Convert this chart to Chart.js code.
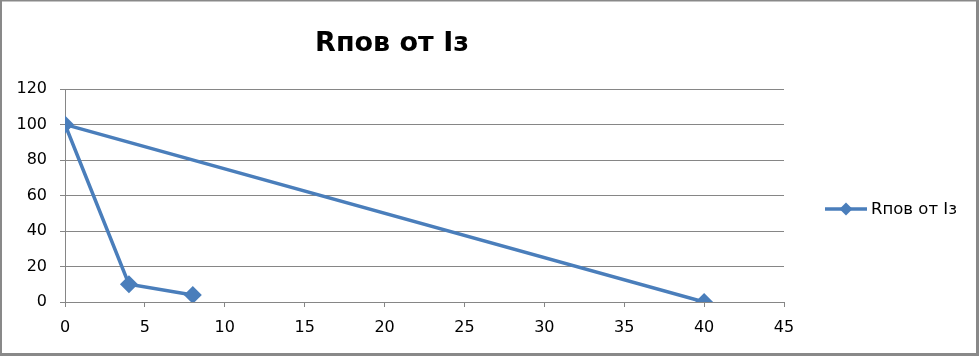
<!DOCTYPE html>
<html>
<head>
<meta charset="utf-8">
<script src="https://cdn.jsdelivr.net/npm/chart.js@4/dist/chart.umd.min.js"></script>
<style>
html,body{margin:0;padding:0;background:#fff;}
#wrap{width:979px;height:356px;position:relative;}
</style>
</head>
<body>
<div id="wrap"><canvas id="c" width="979" height="356"></canvas></div>
<script>
const titleText = "Rпов от Iз";
const seriesName = "Rпов от Iз";
const xValues = [8, 4, 0, 40];
const yValues = [4, 10, 100, 0];
const xTicks = [0, 5, 10, 15, 20, 25, 30, 35, 40, 45];
const yTicks = [0, 20, 40, 60, 80, 100, 120];

const lineColor = "#4A7EBB";
const axisColor = "#868686";
const fontFam = "'DejaVu Sans', 'Open Sans', sans-serif";

const points = xValues.map((x, i) => ({x: x, y: yValues[i]}));

const framePlugin = {
  id: 'frame',
  beforeDraw(chart) {
    const ctx = chart.ctx;
    ctx.save();
    ctx.fillStyle = '#fff';
    ctx.fillRect(0, 0, chart.width, chart.height);
    ctx.restore();
  },
  afterDraw(chart) {
    const ctx = chart.ctx;
    ctx.save();
    ctx.fillStyle = '#898989';
    ctx.fillRect(0, 0, 979, 1.5);
    ctx.fillRect(0, 0, 2, 356);
    ctx.fillRect(976, 0, 3, 356);
    ctx.fillRect(0, 353, 979, 3);
    // legend
    const ly = 209;
    ctx.strokeStyle = lineColor;
    ctx.lineWidth = 3.5;
    ctx.beginPath();
    ctx.moveTo(825, ly);
    ctx.lineTo(867, ly);
    ctx.stroke();
    ctx.fillStyle = lineColor;
    ctx.beginPath();
    const cx = 846, r = 6.5;
    ctx.moveTo(cx, ly - r);
    ctx.lineTo(cx + r, ly);
    ctx.lineTo(cx, ly + r);
    ctx.lineTo(cx - r, ly);
    ctx.closePath();
    ctx.fill();
    ctx.fillStyle = '#000';
    ctx.font = "16.5px " + fontFam;
    ctx.textBaseline = 'middle';
    ctx.textAlign = 'left';
    ctx.fillText(seriesName, 871, ly + 1);
    ctx.restore();
  }
};

new Chart(document.getElementById('c'), {
  type: 'scatter',
  data: {
    datasets: [{
      label: seriesName,
      data: points,
      showLine: true,
      borderColor: lineColor,
      backgroundColor: lineColor,
      borderWidth: 3.5,
      pointStyle: 'rectRot',
      pointRadius: 9,
      pointHoverRadius: 9,
      pointBorderWidth: 0,
      tension: 0
    }]
  },
  options: {
    responsive: false,
    animation: false,
    devicePixelRatio: 1,
    layout: { padding: { left: 0, right: 195, top: 0, bottom: 0 } },
    plugins: {
      legend: { display: false },
      tooltip: { enabled: false },
      title: {
        display: true,
        text: titleText,
        color: '#000',
        font: { family: fontFam, size: 27, weight: 'bold', lineHeight: 1.2 },
        padding: { top: 28, bottom: 28.6 }
      }
    },
    scales: {
      x: {
        type: 'linear',
        min: 0, max: 45,
        afterBuildTicks(scale) { scale.ticks = xTicks.map(v => ({value: v})); },
        afterFit(scale) { scale.height = 54; },
        grid: { drawOnChartArea: false, drawTicks: true, tickLength: 5, color: axisColor, lineWidth: 1 },
        border: { display: true, color: axisColor, width: 1 },
        ticks: { color: '#000', font: { family: fontFam, size: 16 }, padding: 11, maxRotation: 0 }
      },
      y: {
        type: 'linear',
        min: 0, max: 120,
        afterBuildTicks(scale) { scale.ticks = yTicks.map(v => ({value: v})); },
        afterFit(scale) { scale.width = 65; },
        grid: { drawOnChartArea: true, drawTicks: true, tickLength: 5, color: axisColor, lineWidth: 1 },
        border: { display: true, color: axisColor, width: 1 },
        ticks: { color: '#000', font: { family: fontFam, size: 16 }, padding: 13 }
      }
    }
  },
  plugins: [framePlugin]
});
</script>
</body>
</html>
